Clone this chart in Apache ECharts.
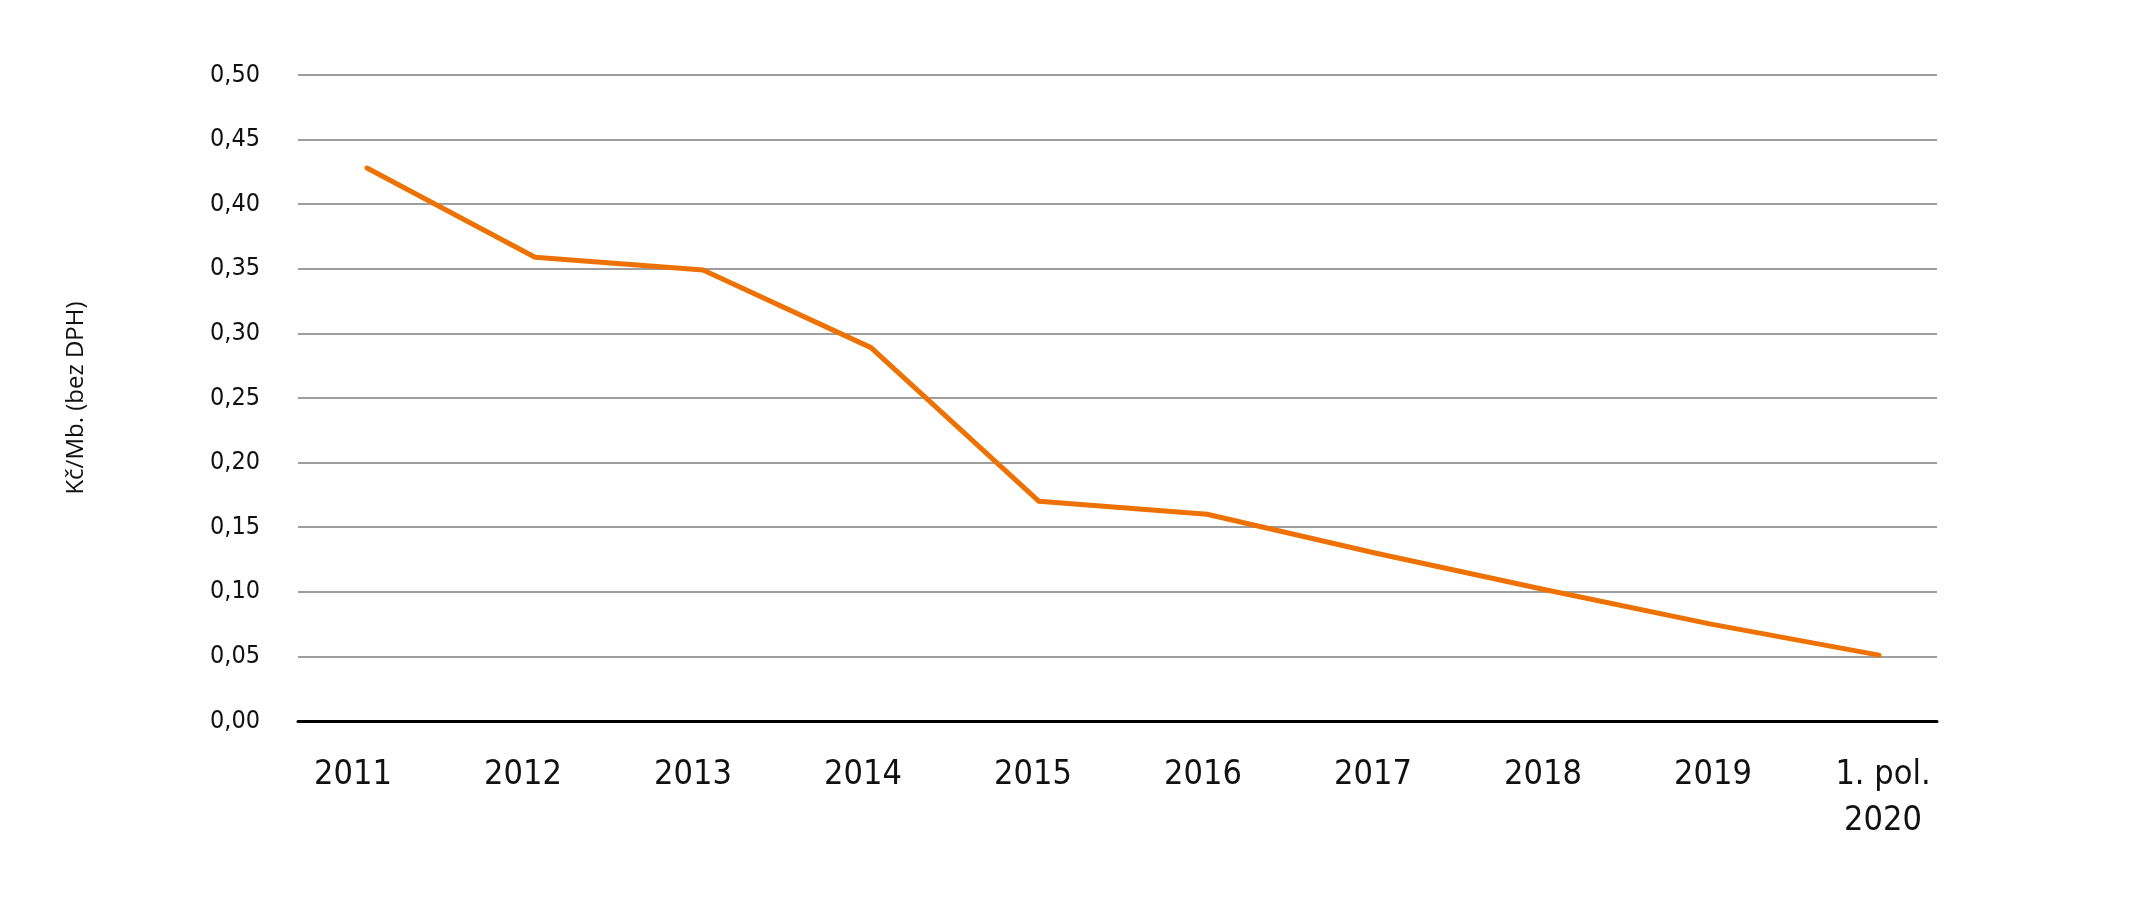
<!DOCTYPE html>
<html>
<head>
<meta charset="utf-8">
<script src="https://cdn.jsdelivr.net/npm/echarts@6/dist/echarts.min.js"></script>
<style>
html,body{margin:0;padding:0;background:#fff;}
#chart{width:2146px;height:906px;}
</style>
</head>
<body>
<div id="chart"></div>
<script>
// Data
const categories = ['2011', '2012', '2013', '2014', '2015', '2016', '2017', '2018', '2019', '1. pol.\n2020'];
const prices = [0.428, 0.359, 0.349, 0.289, 0.170, 0.160, 0.130, 0.102, 0.075, 0.051];
const yAxisTitle = 'Kč/Mb. (bez DPH)';

const numFont = "'DejaVu Sans Condensed', 'Liberation Sans Narrow', sans-serif";
const TOP = 75, BOTTOM = 906 - 721;

const chart = echarts.init(document.getElementById('chart'), null, {renderer: 'canvas'});
chart.setOption({
  animation: false,
  backgroundColor: '#ffffff',
  grid: [
    {left: 298, right: 2146 - 1937, top: TOP, bottom: BOTTOM},
    {left: 353, right: 2146 - 1883, top: TOP, bottom: BOTTOM},
    {left: 367, right: 2146 - 1879, top: TOP, bottom: BOTTOM}
  ],
  xAxis: [
    {gridIndex: 0, type: 'category', data: categories, boundaryGap: true,
     axisLine: {show: true, onZero: false, lineStyle: {color: '#000', width: 3}},
     axisTick: {show: false}, axisLabel: {show: false}, splitLine: {show: false}},
    {gridIndex: 1, type: 'category', data: categories, boundaryGap: false,
     axisLine: {show: false}, axisTick: {show: false}, splitLine: {show: false},
     axisLabel: {show: true, interval: 0, margin: 31, color: '#111', fontSize: 34,
                 fontFamily: numFont, lineHeight: 46, verticalAlign: 'top'}},
    {gridIndex: 2, type: 'category', data: categories, boundaryGap: false, show: false}
  ],
  yAxis: [
    {gridIndex: 0, type: 'value', min: 0, max: 0.5, interval: 0.05,
     name: yAxisTitle, nameLocation: 'middle', nameRotate: 90, nameGap: 210,
     nameTextStyle: {fontFamily: "'Open Sans', 'Noto Sans', sans-serif", fontSize: 24, color: '#111'},
     axisLine: {show: false}, axisTick: {show: false},
     axisLabel: {margin: 38, color: '#111', fontSize: 25, fontFamily: numFont,
                 formatter: v => v.toFixed(2).replace('.', ',')},
     splitLine: {show: true, lineStyle: {color: '#9e9e9e', width: 2}}},
    {gridIndex: 1, type: 'value', min: 0, max: 0.5, show: false},
    {gridIndex: 2, type: 'value', min: 0, max: 0.5, show: false}
  ],
  series: [
    {type: 'line', xAxisIndex: 2, yAxisIndex: 2, data: prices,
     symbol: 'none', lineStyle: {color: '#ee7203', width: 5, cap: 'round', join: 'round'}}
  ]
});
</script>
</body>
</html>
